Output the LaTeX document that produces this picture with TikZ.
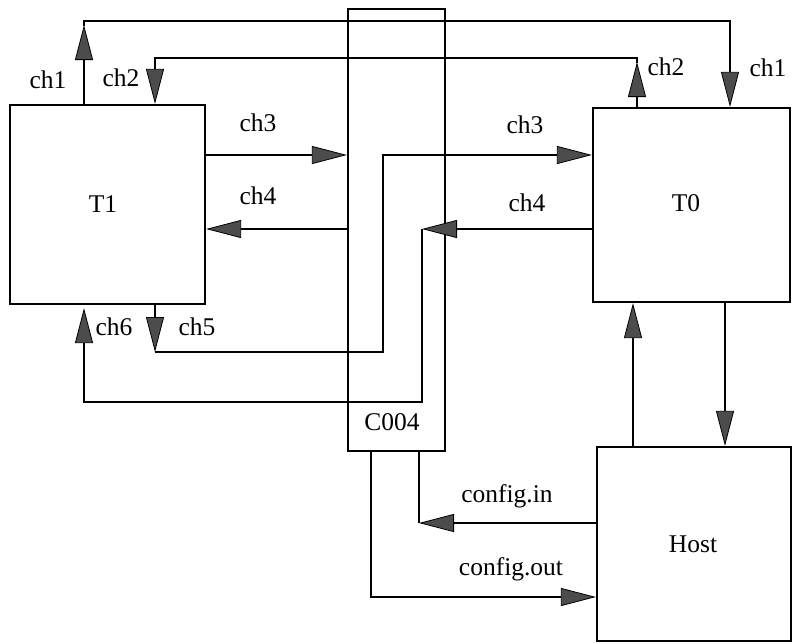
\documentclass[tikz,border=0pt]{standalone}
\usepackage{fontspec}
\setmainfont{Liberation Serif}
\usetikzlibrary{arrows.meta,calc}

\tikzset{
  blk/.style={draw, line width=2.2pt, inner sep=0pt},
  wire/.style={line width=2.2pt},
  arr/.style={wire, -{Triangle[length=35pt,width=18pt,line width=0.8pt,fill=black!70]}},
  lbl/.style={anchor=base, inner sep=0pt, font=\fontsize{25.5}{30}\selectfont}
}

\begin{document}
\begin{tikzpicture}[x=1pt, y=-1pt]
  \useasboundingbox (0,0) rectangle (792,643);

  % boxes
  \node[blk, minimum width=195, minimum height=199] (T1) at (107.5,204.5) {};
  \node[blk, minimum width=197, minimum height=194] (T0) at (691.5,205) {};
  \node[blk, minimum width=194, minimum height=194] (Host) at (694,544) {};
  \node[blk, minimum width=97, minimum height=442] (C004) at (396.5,230) {};

  % rows and columns of the wiring
  \coordinate (y1) at (0,21);
  \coordinate (y2) at (0,58);
  \coordinate (y3) at (0,155);
  \coordinate (y4) at (0,229);
  \coordinate (y5) at (0,352);
  \coordinate (y6) at (0,402);
  \coordinate (y7) at (0,523);
  \coordinate (y8) at (0,597);
  \coordinate (x1) at (84,0);
  \coordinate (x2) at (155,0);
  \coordinate (x5) at (383,0);
  \coordinate (x6) at (422,0);
  \coordinate (xo) at (371,0);
  \coordinate (xi) at (419,0);
  \coordinate (xu) at (633,0);
  \coordinate (xb) at (637,0);
  \coordinate (xd) at (725,0);
  \coordinate (xa) at (730,0);

  % ch1
  \draw[arr] (T1.north -| x1) -- ($(x1 |- y1)+(0,4)$);
  \draw[arr] ($(x1 |- y1)+(0,5)$) -- (x1 |- y1) -- (xa |- y1) -- (T0.north -| xa);
  % ch2
  \draw[arr] (T0.north -| xb) -- ($(xb |- y2)+(0,4)$);
  \draw[arr] ($(xb |- y2)+(0,5)$) -- (xb |- y2) -- (x2 |- y2) -- (T1.north -| x2);
  % ch3, ch4 on T1
  \draw[arr] (T1.east |- y3) -- (C004.west |- y3);
  \draw[arr] (C004.west |- y4) -- (T1.east |- y4);
  % ch5 to ch3 on T0
  \draw[arr] (T1.south -| x2) -- (x2 |- y5);
  \draw[arr] (x2 |- y5) -- (x5 |- y5) -- (x5 |- y3) -- (T0.west |- y3);
  % ch4 on T0 to ch6
  \draw[arr] (T0.west |- y4) -- (x6 |- y4);
  \draw[arr] (x6 |- y4) -- (x6 |- y6) -- (x1 |- y6) -- ($(T1.south -| x1)+(0,3)$);
  % T0 and Host
  \draw[arr] (Host.north -| xu) -- (T0.south -| xu);
  \draw[arr] (T0.south -| xd) -- (Host.north -| xd);
  % configuration links
  \draw[arr] (Host.west |- y7) -- (xi |- y7);
  \draw[wire] (xi |- y7) -- (C004.south -| xi);
  \draw[arr] (C004.south -| xo) -- (xo |- y8) -- (Host.west |- y8);

  % labels
  \node[lbl] (t1) at (103,212) {T1};
  \node[lbl] (t0) at (686,211) {T0};
  \node[lbl] (host) at (693,552) {Host};
  \node[lbl] (c004) at (392,430) {C004};
  \node[lbl] (l1a) at (48,88) {ch1};
  \node[lbl] (l2a) at (121,86) {ch2};
  \node[lbl] (l3a) at (258,131) {ch3};
  \node[lbl] (l4a) at (258,204) {ch4};
  \node[lbl] (l2b) at (666,75) {ch2};
  \node[lbl] (l1b) at (768,76) {ch1};
  \node[lbl] (l3b) at (525,133) {ch3};
  \node[lbl] (l4b) at (527,211) {ch4};
  \node[lbl] (l6) at (114,335) {ch6};
  \node[lbl] (l5) at (197,335) {ch5};
  \node[lbl] (cin) at (507,502) {config.in};
  \node[lbl] (cout) at (511,575) {config.out};
\end{tikzpicture}
\end{document}
